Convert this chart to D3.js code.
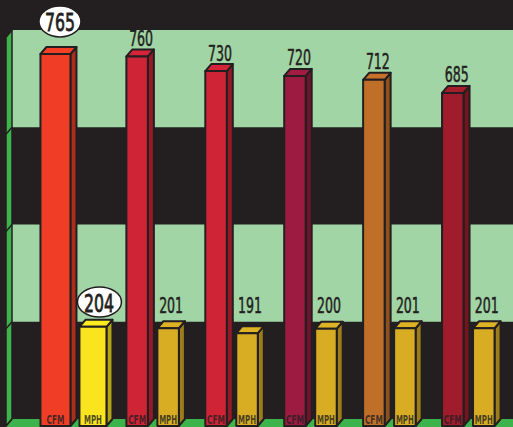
<!DOCTYPE html>
<html><head><meta charset="utf-8">
<script src="https://cdn.jsdelivr.net/npm/d3@7"></script>
<style>html,body{margin:0;padding:0;background:#231f20;overflow:hidden}</style>
</head><body><div id="chart"></div>
<script>
// ---- data ----
const groups = ["A", "B", "C", "D", "E", "F"];
const cfmValues = [765, 760, 730, 720, 712, 685];
const mphValues = [204, 201, 191, 200, 201, 201];
const highlighted = ["A"];
const gridTicks = [0, 200, 400, 600, 800];
const seriesNames = ["CFM", "MPH"];

// ---- styles ----
const cfmColors = ["#ef3e25", "#cf2336", "#cf2336", "#9d1a40", "#c06f29", "#a01b2b"];
const mphColors = ["#fae41e", "#d8ad24", "#d8ad24", "#d8ad24", "#d8ad24", "#d8ad24"];
const dark = "#231f20", lightBand = "#a1d5a6", wallGreen = "#3cb44b";

const W = 513, H = 427, DX = 6, DY = 7;
const svg = d3.select("#chart").append("svg").attr("width", W).attr("height", H);
svg.append("rect").attr("width", W).attr("height", H).attr("fill", dark);

const y = d3.scaleLinear().domain([0, 800]).range([426, 37]);
const x = d3.scaleBand().domain(groups).range([34, 507.5]).padding(0);

// back wall bands (alternating, offset by depth)
for (let i = 0; i < gridTicks.length - 1; i++) {
  const lo = gridTicks[i], hi = gridTicks[i + 1];
  if (i % 2 === 1) {
    svg.append("rect").attr("x", 12).attr("y", y(hi) - DY).attr("width", W - 12)
      .attr("height", y(lo) - y(hi)).attr("fill", lightBand);
  }
}
// floor
svg.append("polygon")
  .attr("points", [[6, y(0)], [12, y(0) - DY], [W + 5, y(0) - DY], [W + 5, H + 5], [6, H + 5]].join(" "))
  .attr("fill", wallGreen);
// left wall
svg.append("polygon")
  .attr("points", [[6, y(800)], [12, y(800) - DY], [12, y(0) - DY], [6, y(0)]].join(" "))
  .attr("fill", wallGreen).attr("stroke", dark).attr("stroke-width", 1.5);
gridTicks.forEach(t => {
  svg.append("line").attr("x1", 6).attr("y1", y(t)).attr("x2", 12).attr("y2", y(t) - DY)
    .attr("stroke", dark).attr("stroke-width", 1.5);
});

const fontFam = "'Liberation Sans Narrow','DejaVu Sans Condensed',sans-serif";

function bar(x0, x1, v, color, label) {
  const yt = y(v), y0 = y(0);
  const g = svg.append("g").attr("stroke", dark).attr("stroke-width", 2).attr("stroke-linejoin", "round");
  const c = d3.color(color);
  g.append("polygon").attr("points", [[x1, yt], [x1 + DX, yt - DY], [x1 + DX, y0 - DY], [x1, y0]].join(" "))
    .attr("fill", c.darker(0.9));
  g.append("polygon").attr("points", [[x0, yt], [x0 + DX, yt - DY], [x1 + DX, yt - DY], [x1, yt]].join(" "))
    .attr("fill", c.brighter(0.08));
  g.append("rect").attr("x", x0).attr("y", yt).attr("width", x1 - x0).attr("height", y0 - yt).attr("fill", color);
  svg.append("text").attr("x", (x0 + x1) / 2).attr("y", 423.5).attr("text-anchor", "middle")
    .attr("font-family", fontFam).attr("font-weight", "bold")
    .attr("font-size", 11.5).attr("fill", dark).attr("fill-opacity", 0.8)
    .attr("textLength", 18).attr("lengthAdjust", "spacingAndGlyphs").text(label);
}

function valueLabel(cx, baseline, txt, hl, ellipse) {
  if (hl) {
    svg.append("ellipse").attr("cx", ellipse[0]).attr("cy", ellipse[1]).attr("rx", ellipse[2]).attr("ry", ellipse[3])
      .attr("fill", "#ffffff").attr("stroke", dark).attr("stroke-width", 1.5);
  }
  svg.append("text").attr("x", cx).attr("y", baseline).attr("text-anchor", "middle")
    .attr("font-family", fontFam)
    .attr("font-size", hl ? 25.5 : 21)
    .attr("fill", dark).attr("stroke", dark).attr("stroke-width", hl ? 0.8 : 0.5)
    .attr("textLength", hl ? 30 : 24).attr("lengthAdjust", "spacingAndGlyphs")
    .text(txt);
}

groups.forEach((gname, i) => {
  const c = x(gname) + x.bandwidth() / 2;
  const hl = highlighted.includes(gname);
  const off = hl ? [[-33, -3], [6, 33]] : [[-26, -4.5], [5, 26.5]];
  const cfm = cfmValues[i], mph = mphValues[i];
  bar(c + off[0][0], c + off[0][1], cfm, cfmColors[i], seriesNames[0]);
  bar(c + off[1][0], c + off[1][1], mph, mphColors[i], seriesNames[1]);
  const cfmCx = (c + off[0][0] + c + off[0][1]) / 2;
  const mphCx = (c + off[1][0] + c + off[1][1]) / 2;
  if (hl) {
    valueLabel(cfmCx + 4.5, 31, cfm, true, [cfmCx + 4.5, 21.5, 21, 15.5]);
    valueLabel(mphCx + 6, 312, mph, true, [mphCx + 6.5, 302, 22, 15]);
  } else {
    valueLabel(cfmCx + 4, y(cfm) - DY - 3.5, cfm, false);
    valueLabel(mphCx + 3, 312.5, mph, false);
  }
});
</script></body></html>
